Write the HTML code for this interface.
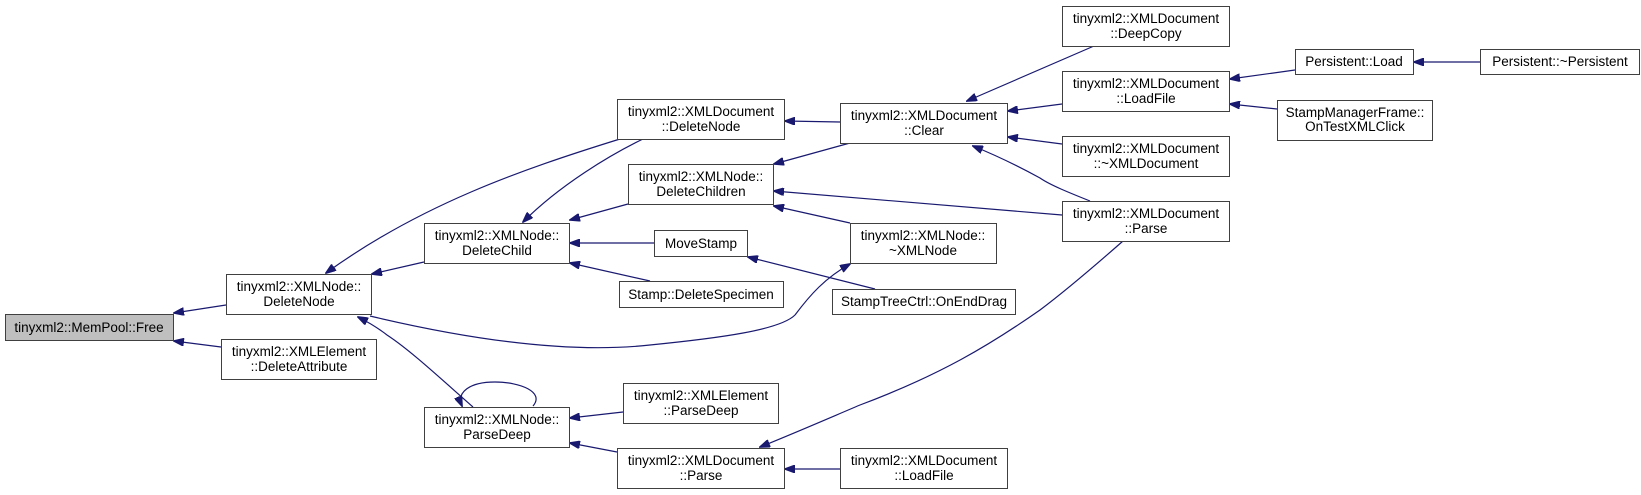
<!DOCTYPE html>
<html><head><meta charset="utf-8"><style>
html,body{margin:0;padding:0;background:#fff;}
svg{display:block;}
text{font-family:"Liberation Sans",sans-serif;font-size:13.5px;fill:#000;}
</style></head><body>
<svg width="1641" height="495" viewBox="0 0 1641 495" xmlns="http://www.w3.org/2000/svg">
<defs>
<marker id="a" markerWidth="11" markerHeight="8" refX="10" refY="4" orient="auto" markerUnits="userSpaceOnUse">
<path d="M0,0 L11,4 L0,8 Z" fill="#191970" stroke="#191970"/>
</marker>
</defs>
<g fill="none" stroke="#191970" stroke-width="1.2" marker-end="url(#a)">
<path d="M226,305 L174,313"/>
<path d="M221,347 L174,341"/>
<path d="M424,262 L372,274"/>
<path d="M620,139 C520,170 420,205 326,273"/>
<path d="M370,316 C450,335 560,355 650,345 C720,338 780,330 795,315 C810,295 825,278 850,264"/>
<path d="M473,407 C440,378 410,350 387,335 C378,328 370,323 358,317"/>
<path d="M533,406 C545,392 520,382 495,382 C470,382 456,392 462,406"/>
<path d="M643,139 C610,155 560,185 523,222"/>
<path d="M628,204 L570,220"/>
<path d="M654,243 L570,243"/>
<path d="M650,281 L570,263"/>
<path d="M840,122 L785,121"/>
<path d="M850,143 L774,164"/>
<path d="M1062,215 L774,191"/>
<path d="M850,223 L774,206"/>
<path d="M875,289 L748,257"/>
<path d="M1094,46 L967,101"/>
<path d="M1062,104 L1008,111"/>
<path d="M1062,144 L1008,137"/>
<path d="M1090,201 C1070,193 1050,185 1040,178 C1020,167 1000,157 973,146"/>
<path d="M623,412 L570,418"/>
<path d="M617,452 L570,443"/>
<path d="M1123,241 C1090,270 1060,295 1040,310 C990,345 940,375 860,405 C820,422 790,435 760,447"/>
<path d="M840,469 L785,469"/>
<path d="M1295,70 L1230,79"/>
<path d="M1277,109 L1230,104"/>
<path d="M1480,62 L1414,62"/>
</g>
<g stroke="#404040" stroke-width="1" fill="#fff">
<rect x="5.5" y="314.5" width="168" height="26" fill="#bfbfbf"/>
<rect x="226.5" y="274.5" width="145" height="40"/>
<rect x="221.5" y="339.5" width="155" height="40"/>
<rect x="424.5" y="223.5" width="145" height="40"/>
<rect x="424.5" y="407.5" width="145" height="40"/>
<rect x="617.5" y="99.5" width="167" height="40"/>
<rect x="628.5" y="164.5" width="145" height="40"/>
<rect x="654.5" y="230.5" width="93" height="26"/>
<rect x="619.5" y="281.5" width="164" height="26"/>
<rect x="623.5" y="383.5" width="155" height="40"/>
<rect x="617.5" y="448.5" width="167" height="40"/>
<rect x="840.5" y="103.5" width="167" height="40"/>
<rect x="850.5" y="223.5" width="146" height="40"/>
<rect x="832.5" y="289.5" width="183" height="25"/>
<rect x="840.5" y="448.5" width="167" height="40"/>
<rect x="1062.5" y="6.5" width="167" height="40"/>
<rect x="1062.5" y="71.5" width="167" height="40"/>
<rect x="1062.5" y="136.5" width="167" height="40"/>
<rect x="1062.5" y="201.5" width="167" height="40"/>
<rect x="1295.5" y="49.5" width="118" height="25"/>
<rect x="1480.5" y="49.5" width="159" height="25"/>
<rect x="1277.5" y="100.5" width="155" height="40"/>
</g>
<g text-anchor="middle">
<text x="89" y="332">tinyxml2::MemPool::Free</text>
<text x="299" y="291">tinyxml2::XMLNode::</text><text x="299" y="306">DeleteNode</text>
<text x="299" y="356">tinyxml2::XMLElement</text><text x="299" y="371">::DeleteAttribute</text>
<text x="497" y="240">tinyxml2::XMLNode::</text><text x="497" y="255">DeleteChild</text>
<text x="497" y="424">tinyxml2::XMLNode::</text><text x="497" y="439">ParseDeep</text>
<text x="701" y="116">tinyxml2::XMLDocument</text><text x="701" y="131">::DeleteNode</text>
<text x="701" y="181">tinyxml2::XMLNode::</text><text x="701" y="196">DeleteChildren</text>
<text x="701" y="248">MoveStamp</text>
<text x="701" y="299">Stamp::DeleteSpecimen</text>
<text x="701" y="400">tinyxml2::XMLElement</text><text x="701" y="415">::ParseDeep</text>
<text x="701" y="465">tinyxml2::XMLDocument</text><text x="701" y="480">::Parse</text>
<text x="924" y="120">tinyxml2::XMLDocument</text><text x="924" y="135">::Clear</text>
<text x="923" y="240">tinyxml2::XMLNode::</text><text x="923" y="255">~XMLNode</text>
<text x="924" y="306">StampTreeCtrl::OnEndDrag</text>
<text x="924" y="465">tinyxml2::XMLDocument</text><text x="924" y="480">::LoadFile</text>
<text x="1146" y="23">tinyxml2::XMLDocument</text><text x="1146" y="38">::DeepCopy</text>
<text x="1146" y="88">tinyxml2::XMLDocument</text><text x="1146" y="103">::LoadFile</text>
<text x="1146" y="153">tinyxml2::XMLDocument</text><text x="1146" y="168">::~XMLDocument</text>
<text x="1146" y="218">tinyxml2::XMLDocument</text><text x="1146" y="233">::Parse</text>
<text x="1354" y="66">Persistent::Load</text>
<text x="1560" y="66">Persistent::~Persistent</text>
<text x="1355" y="117">StampManagerFrame::</text><text x="1355" y="131">OnTestXMLClick</text>
</g>
</svg>
</body></html>
